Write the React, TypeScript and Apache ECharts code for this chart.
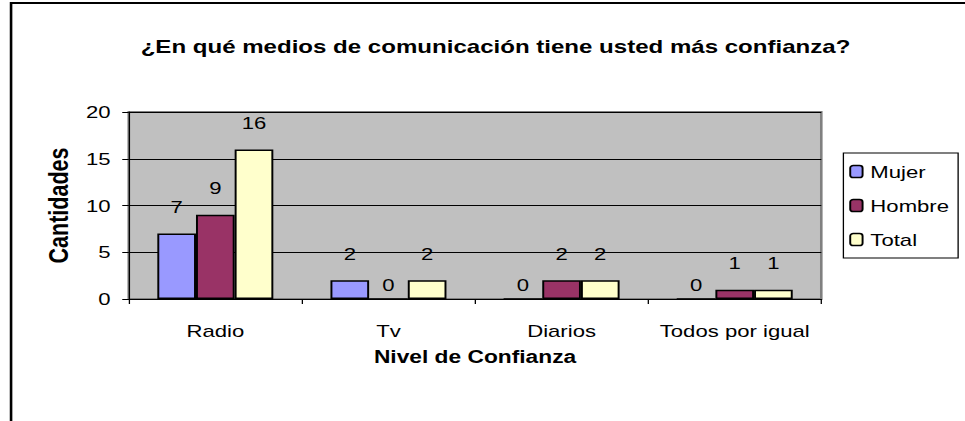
import React, { useEffect, useRef } from "react";
import * as echarts from "echarts";

const categories = ["Radio", "Tv", "Diarios", "Todos por igual"];
const mujer = [7, 2, 0, 0];
const hombre = [9, 0, 2, 1];
const total = [16, 2, 2, 1];
const seriesNames = ["Mujer", "Hombre", "Total"];
const yTicks = { min: 0, max: 20, interval: 5 };

const FONT = "'Liberation Sans', Arial, sans-serif";
const FULL_W = 965;
const BASE_W = 742;
const H = 421;

export default function App() {
  const ref = useRef<HTMLDivElement>(null);

  useEffect(() => {
    if (!ref.current) return;
    const chart = echarts.init(ref.current, null, { renderer: "svg" });
    const barItem = (color: string) => ({
      color,
      borderColor: "#000",
      borderWidth: 1.5,
    });
    const label = {
      show: true,
      position: "top" as const,
      distance: 18,
      color: "#000",
      fontSize: 17,
      fontFamily: FONT,
    };
    const toData = (arr: number[]) =>
      arr.map((v) => (v === 0 ? { value: v, label: { distance: 5 } } : v));
    chart.setOption({
      animation: false,
      backgroundColor: "#fff",
      title: {
        text: "¿En qué medios de comunicación tiene usted más confianza?",
        left: 381,
        top: 37,
        textAlign: "center",
        padding: 0,
        textStyle: {
          fontSize: 18.5,
          fontWeight: "bold",
          color: "#000",
          fontFamily: FONT,
        },
      },
      graphic: [
        {
          type: "rect",
          shape: { x: 8.5, y: 3, width: 900, height: 600 },
          style: { fill: "none", stroke: "#000", lineWidth: 2 },
          silent: true,
        },
      ],
      legend: {
        orient: "vertical",
        left: 648.5,
        top: 153,
        padding: [10, 7, 10, 4.5],
        itemGap: 17,
        itemWidth: 9.5,
        itemHeight: 12,
        borderColor: "#000",
        borderWidth: 1,
        backgroundColor: "#fff",
        data: seriesNames,
        textStyle: { fontSize: 17, color: "#000", fontFamily: FONT, padding: [0, 0, 0, 1] },
        itemStyle: { borderColor: "#000", borderWidth: 1.5 },
      },
      grid: {
        left: 99,
        right: BASE_W - 631.5,
        top: 112,
        bottom: H - 299,
        show: true,
        backgroundColor: "#C0C0C0",
        borderColor: "#808080",
        borderWidth: 2,
      },
      xAxis: {
        type: "category",
        data: categories,
        name: "Nivel de Confianza",
        nameLocation: "middle",
        nameGap: 49,
        nameTextStyle: {
          fontSize: 17.5,
          fontWeight: "bold",
          color: "#000",
          fontFamily: FONT,
        },
        axisLine: { lineStyle: { color: "#000", width: 1 } },
        axisTick: { show: true, length: 5, lineStyle: { color: "#000" } },
        axisLabel: {
          fontSize: 17,
          color: "#000",
          margin: 23,
          interval: 0,
          fontFamily: FONT,
        },
      },
      yAxis: {
        type: "value",
        min: yTicks.min,
        max: yTicks.max,
        interval: yTicks.interval,
        name: "Cantidades",
        nameLocation: "middle",
        nameRotate: 90,
        nameGap: 37.5,
        nameTextStyle: {
          fontSize: 21.5,
          fontWeight: "bold",
          color: "#000",
          fontFamily: FONT,
        },
        axisLine: { show: true, lineStyle: { color: "#000", width: 1 } },
        axisTick: { show: true, length: 5, lineStyle: { color: "#000" } },
        axisLabel: { fontSize: 17, color: "#000", margin: 14, fontFamily: FONT },
        splitLine: { show: true, lineStyle: { color: "#000", width: 1 } },
      },
      series: [
        {
          name: seriesNames[0],
          type: "bar",
          data: toData(mujer),
          barGap: "0%",
          barCategoryGap: "33%",
          itemStyle: barItem("#9999FF"),
          label,
        },
        {
          name: seriesNames[1],
          type: "bar",
          data: toData(hombre),
          barGap: "0%",
          barCategoryGap: "33%",
          itemStyle: barItem("#993366"),
          label,
        },
        {
          name: seriesNames[2],
          type: "bar",
          data: toData(total),
          barGap: "0%",
          barCategoryGap: "33%",
          itemStyle: barItem("#FFFFCC"),
          label,
        },
      ],
    });
    return () => chart.dispose();
  }, []);

  return (
    <div
      style={{
        position: "absolute",
        left: 0,
        top: 0,
        width: FULL_W,
        height: H,
        overflow: "hidden",
        background: "#fff",
      }}
    >
      <div
        ref={ref}
        style={{
          width: BASE_W,
          height: H,
          transform: `scaleX(${FULL_W / BASE_W})`,
          transformOrigin: "0 0",
        }}
      />
    </div>
  );
}
